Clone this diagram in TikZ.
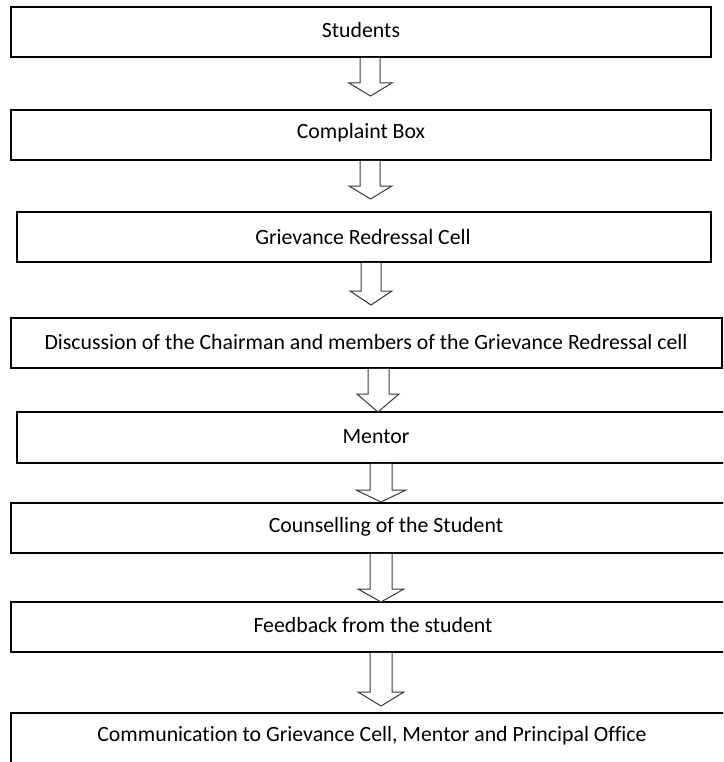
\documentclass[tikz,border=0pt]{standalone}
\usepackage{fontspec}
\setmainfont[Ligatures=NoCommon]{Carlito}
\usetikzlibrary{calc}
\definecolor{arrgray}{HTML}{3A3A3A}
\tikzset{
  box/.style={draw=black, line width=1.8pt, rectangle, inner sep=0pt, fill=white},
  boxtext/.style={font=\fontsize{21.8}{25}\selectfont, text=black, inner sep=0pt},
  blockarr/.style={draw=arrgray, line width=1pt, fill=white, line join=miter}
}
% #1 from node, #2 shaft left x, #3 shaft right x, #4 head left x, #5 head right x, #6 head start y, #7 tip y
\newcommand\blockarrow[7]{%
  \draw[blockarr] let \p1=(#1.south) in (#2,\y1) -- (#2,#6) -- (#4,#6) -- ({(#4+#5)/2},#7) -- (#5,#6) -- (#3,#6) -- (#3,\y1);
}
\begin{document}
\begin{tikzpicture}[x=1pt,y=-1pt]
\useasboundingbox (0,0) rectangle (723,762);
\clip (0,0) rectangle (723,762);
\fill[white] (0,0) rectangle (723,762);
% boxes
\node[box, minimum width=700pt, minimum height=50pt] (b1) at (361,32) {};
\node[box, minimum width=700pt, minimum height=50pt] (b2) at (361,135) {};
\node[box, minimum width=694pt, minimum height=50pt] (b3) at (364,237) {};
\node[box, minimum width=711pt, minimum height=50pt] (b4) at (366.5,343) {};
\node[box, minimum width=720pt, minimum height=51pt] (b5) at (377,437.5) {};
\node[box, minimum width=726pt, minimum height=50pt] (b6) at (374,528) {};
\node[box, minimum width=726pt, minimum height=50pt] (b7) at (374,627) {};
\node[box, minimum width=726pt, minimum height=60pt] (b8) at (374,743) {};
% texts
\node[boxtext] (t1) at (361,30) {Students};
\node[boxtext] (t2) at (361,133) {Complaint Box};
\node[boxtext] (t3) at (363,237) {Grievance Redressal Cell};
\node[boxtext] (t4) at (366,342) {Discussion of the Chairman and members of the Grievance Redressal cell};
\node[boxtext] (t5) at (376,437) {Mentor};
\node[boxtext] (t6) at (386,527) {Counselling of the Student};
\node[boxtext] (t7) at (373,625) {Feedback from the student};
\node[boxtext] (t8) at (372,736) {Communication to Grievance Cell, Mentor and Principal Office};
% arrows
\blockarrow{b1}{360}{380}{349}{392}{83}{96}
\blockarrow{b2}{360}{380}{349}{392}{186}{199}
\blockarrow{b3}{361}{381}{350}{392}{291}{305}
\blockarrow{b4}{368}{389}{357}{399}{394}{412}
\blockarrow{b5}{370}{392}{356}{406}{490}{502}
\blockarrow{b6}{370}{392}{358}{404}{589}{602}
\blockarrow{b7}{370}{392}{358}{404}{692}{706}
\end{tikzpicture}
\end{document}
